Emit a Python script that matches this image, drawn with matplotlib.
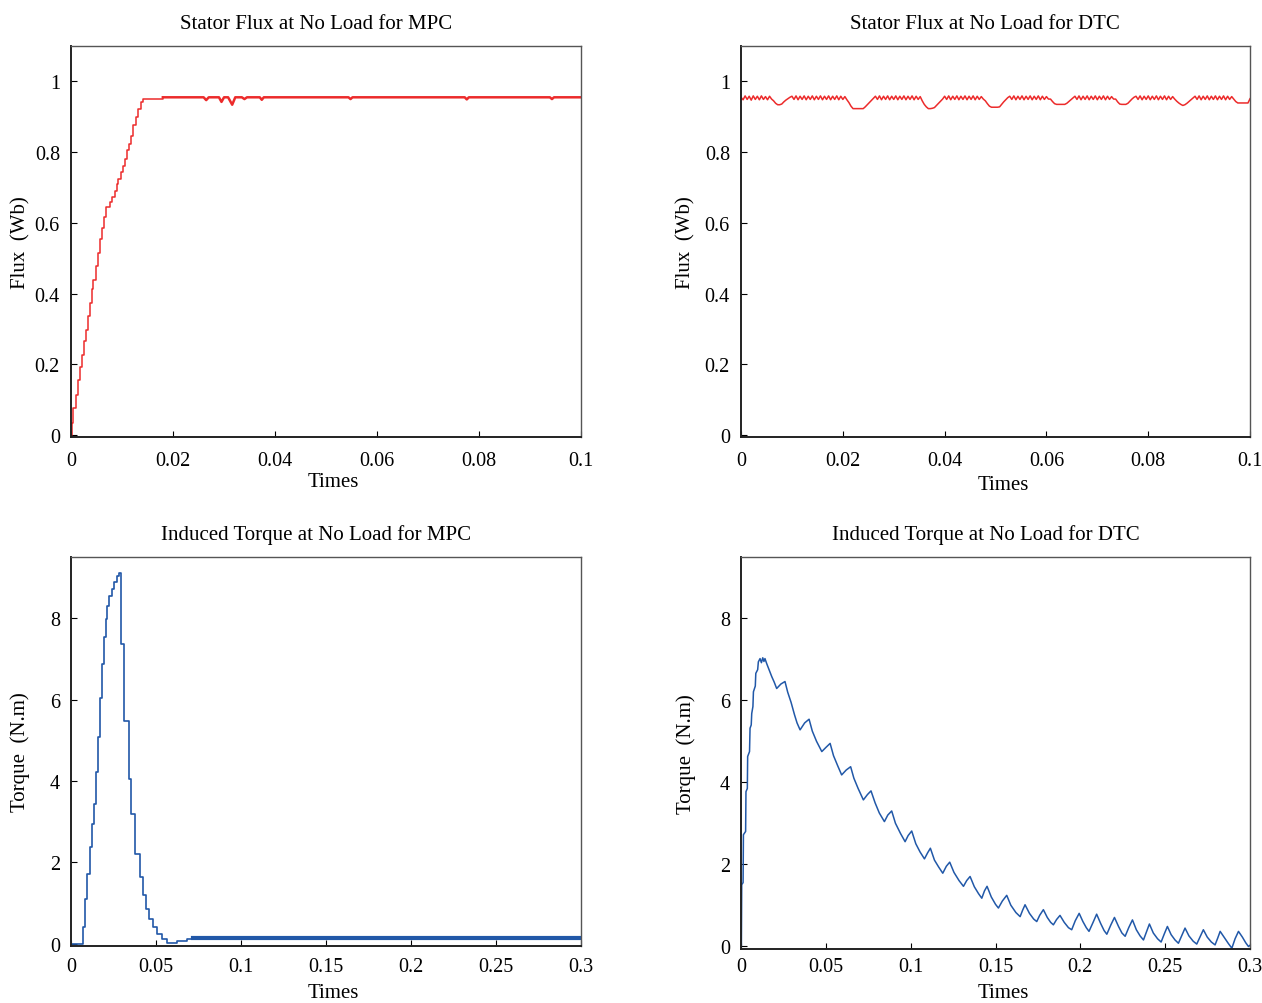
import numpy as np
import matplotlib
matplotlib.use("Agg")
import matplotlib.pyplot as plt
from matplotlib.ticker import FuncFormatter

plt.rcParams['font.family'] = ['Liberation Serif', 'DejaVu Serif']

RED = '#ec2b2b'
BLUE = '#2158a8'

# MPC stator flux (step-like rise, then flat with a few small dips)
mpc_flux_t = [0.0, 0.0002, 0.00046, 0.0009, 0.0013, 0.0018, 0.0022, 0.0025, 0.0029, 0.0033,
              0.0037, 0.0041, 0.0044, 0.0048, 0.0052, 0.0056, 0.0060, 0.0064, 0.0068, 0.0076,
              0.0081, 0.0086, 0.0090, 0.0093, 0.0097, 0.0101, 0.0105, 0.0109, 0.0114, 0.0118,
              0.0122, 0.0127, 0.0132, 0.0137, 0.0142, 0.0180, 0.0260, 0.0265, 0.0270, 0.0290,
              0.0295, 0.0300, 0.0308, 0.0316, 0.0322, 0.0335, 0.0340, 0.0345, 0.0370, 0.0374,
              0.0378, 0.0544, 0.0548, 0.0552, 0.0772, 0.0776, 0.0780, 0.0939, 0.0943, 0.0947,
              0.1000]
mpc_flux = [0.0, 0.034, 0.076, 0.114, 0.156, 0.194, 0.227, 0.265, 0.298, 0.336,
            0.374, 0.412, 0.440, 0.478, 0.516, 0.554, 0.587, 0.616, 0.644, 0.658,
            0.672, 0.691, 0.710, 0.724, 0.743, 0.762, 0.781, 0.805, 0.824, 0.847,
            0.876, 0.900, 0.923, 0.942, 0.951, 0.955, 0.955, 0.947, 0.955, 0.955,
            0.942, 0.955, 0.955, 0.934, 0.955, 0.955, 0.950, 0.955, 0.955, 0.948,
            0.955, 0.955, 0.950, 0.955, 0.955, 0.949, 0.955, 0.955, 0.950, 0.955,
            0.955]

# DTC stator flux, sampled every 0.4 ms
dtc_flux_t = np.arange(251) * 0.0004
dtc_flux = [0.955, 0.948, 0.959, 0.949, 0.958, 0.947, 0.959, 0.949, 0.958, 0.948,
            0.959, 0.949, 0.957, 0.948, 0.958, 0.950, 0.945, 0.938, 0.934, 0.934,
            0.936, 0.942, 0.947, 0.951, 0.955, 0.958, 0.949, 0.959, 0.948, 0.958,
            0.949, 0.959, 0.948, 0.958, 0.949, 0.959, 0.948, 0.958, 0.949, 0.959,
            0.948, 0.958, 0.949, 0.959, 0.948, 0.958, 0.949, 0.959, 0.948, 0.958,
            0.949, 0.957, 0.948, 0.940, 0.930, 0.923, 0.923, 0.923, 0.923, 0.923,
            0.923, 0.928, 0.934, 0.940, 0.946, 0.952, 0.958, 0.949, 0.959, 0.948,
            0.958, 0.949, 0.959, 0.948, 0.958, 0.949, 0.959, 0.948, 0.958, 0.949,
            0.959, 0.948, 0.958, 0.949, 0.959, 0.948, 0.958, 0.949, 0.957, 0.945,
            0.935, 0.928, 0.923, 0.923, 0.924, 0.926, 0.932, 0.938, 0.944, 0.950,
            0.958, 0.949, 0.959, 0.948, 0.958, 0.949, 0.959, 0.948, 0.958, 0.949,
            0.959, 0.948, 0.958, 0.949, 0.959, 0.948, 0.958, 0.949, 0.957, 0.950,
            0.945, 0.937, 0.930, 0.927, 0.927, 0.927, 0.927, 0.928, 0.935, 0.942,
            0.948, 0.954, 0.958, 0.949, 0.959, 0.948, 0.958, 0.949, 0.959, 0.948,
            0.958, 0.949, 0.959, 0.948, 0.958, 0.949, 0.959, 0.948, 0.958, 0.949,
            0.957, 0.950, 0.950, 0.943, 0.937, 0.935, 0.935, 0.935, 0.935, 0.935,
            0.938, 0.943, 0.948, 0.953, 0.958, 0.949, 0.959, 0.948, 0.958, 0.949,
            0.959, 0.948, 0.958, 0.949, 0.959, 0.948, 0.958, 0.949, 0.959, 0.948,
            0.958, 0.949, 0.957, 0.950, 0.950, 0.942, 0.936, 0.935, 0.935, 0.935,
            0.938, 0.944, 0.950, 0.955, 0.958, 0.949, 0.959, 0.948, 0.958, 0.949,
            0.959, 0.948, 0.958, 0.949, 0.959, 0.948, 0.958, 0.949, 0.959, 0.948,
            0.958, 0.949, 0.957, 0.950, 0.944, 0.939, 0.935, 0.932, 0.934, 0.938,
            0.943, 0.948, 0.953, 0.958, 0.949, 0.959, 0.948, 0.958, 0.949, 0.959,
            0.948, 0.958, 0.949, 0.959, 0.948, 0.958, 0.949, 0.959, 0.948, 0.958,
            0.949, 0.957, 0.950, 0.943, 0.939, 0.939, 0.939, 0.939, 0.939, 0.939,
            0.951]

# MPC induced torque
mpc_torque_t = [0.0, 0.0063, 0.0069, 0.0082, 0.0096, 0.0112, 0.0124, 0.0135, 0.0147, 0.0159,
                0.0171, 0.0182, 0.0194, 0.0204, 0.0214, 0.0225, 0.0239, 0.0253, 0.0269, 0.0284,
                0.0292, 0.0312, 0.0341, 0.0353, 0.0376, 0.0406, 0.0425, 0.0441, 0.0461, 0.0484,
                0.0508, 0.0534, 0.0563, 0.0624, 0.0680, 0.0720, 0.1200, 0.1800, 0.2400, 0.3000]
mpc_torque = [0.0, 0.0, 0.41, 1.10, 1.72, 2.37, 2.94, 3.44, 4.21, 5.07,
              6.05, 6.87, 7.53, 7.98, 8.30, 8.55, 8.71, 8.88, 9.04, 9.10,
              7.36, 5.48, 4.05, 3.19, 2.21, 1.64, 1.19, 0.86, 0.61, 0.41,
              0.25, 0.12, 0.02, 0.08, 0.12, 0.15, 0.15, 0.15, 0.15, 0.15]

# DTC induced torque
dtc_torque_t = [0.0, 0.0002, 0.0004, 0.0012, 0.0014, 0.0027, 0.0029, 0.0037, 0.0039, 0.0050,
                0.0053, 0.0060, 0.0063, 0.0070, 0.0073, 0.0084, 0.0087, 0.0098, 0.0102, 0.0112,
                0.0120, 0.0128, 0.0135, 0.0141, 0.0151, 0.0165, 0.0181, 0.0195, 0.0210, 0.0235,
                0.0259, 0.0275, 0.0295, 0.0315, 0.0330, 0.0348, 0.0375, 0.0401, 0.0420, 0.0445,
                0.0476, 0.0500, 0.0525, 0.0545, 0.0570, 0.0593, 0.0620, 0.0646, 0.0665, 0.0690,
                0.0721, 0.0745, 0.0766, 0.0790, 0.0815, 0.0845, 0.0865, 0.0888, 0.0910, 0.0940,
                0.0967, 0.0985, 0.1006, 0.1030, 0.1055, 0.1081, 0.1100, 0.1116, 0.1140, 0.1165,
                0.1189, 0.1210, 0.1230, 0.1255, 0.1285, 0.1311, 0.1330, 0.1350, 0.1375, 0.1400,
                0.1419, 0.1435, 0.1450, 0.1475, 0.1500, 0.1517, 0.1540, 0.1566, 0.1590, 0.1620,
                0.1645, 0.1660, 0.1674, 0.1700, 0.1725, 0.1743, 0.1760, 0.1782, 0.1805, 0.1825,
                0.1841, 0.1860, 0.1880, 0.1905, 0.1930, 0.1949, 0.1970, 0.1993, 0.2015, 0.2035,
                0.2051, 0.2075, 0.2096, 0.2120, 0.2140, 0.2156, 0.2180, 0.2201, 0.2225, 0.2245,
                0.2264, 0.2285, 0.2307, 0.2330, 0.2352, 0.2372, 0.2390, 0.2407, 0.2430, 0.2455,
                0.2476, 0.2495, 0.2513, 0.2535, 0.2558, 0.2578, 0.2598, 0.2617, 0.2640, 0.2665,
                0.2686, 0.2705, 0.2725, 0.2748, 0.2772, 0.2794, 0.2810, 0.2824, 0.2850, 0.2873,
                0.2893, 0.2912, 0.2932, 0.2955, 0.2975, 0.2991, 0.3000]
dtc_torque = [0.00, 0.00, 1.50, 1.55, 2.72, 2.80, 3.77, 3.85, 4.63, 4.75,
              5.32, 5.40, 5.68, 5.85, 6.21, 6.35, 6.66, 6.75, 6.94, 7.02,
              6.92, 7.04, 6.95, 7.02, 6.90, 6.75, 6.58, 6.45, 6.29, 6.40,
              6.46, 6.20, 5.95, 5.65, 5.45, 5.28, 5.45, 5.54, 5.25, 5.00,
              4.75, 4.85, 4.95, 4.65, 4.40, 4.18, 4.30, 4.38, 4.10, 3.85,
              3.57, 3.70, 3.79, 3.50, 3.25, 3.04, 3.20, 3.30, 3.00, 2.75,
              2.55, 2.70, 2.81, 2.50, 2.30, 2.13, 2.28, 2.39, 2.10, 1.93,
              1.78, 1.95, 2.05, 1.80, 1.60, 1.46, 1.60, 1.70, 1.45, 1.28,
              1.17, 1.35, 1.46, 1.20, 1.02, 0.93, 1.10, 1.24, 1.00, 0.82,
              0.72, 0.88, 1.01, 0.80, 0.66, 0.60, 0.75, 0.89, 0.70, 0.58,
              0.52, 0.65, 0.75, 0.58, 0.45, 0.40, 0.62, 0.80, 0.60, 0.45,
              0.36, 0.58, 0.78, 0.55, 0.38, 0.29, 0.52, 0.70, 0.48, 0.32,
              0.24, 0.45, 0.64, 0.40, 0.25, 0.15, 0.35, 0.54, 0.32, 0.18,
              0.10, 0.30, 0.48, 0.28, 0.15, 0.07, 0.26, 0.44, 0.25, 0.12,
              0.05, 0.22, 0.40, 0.22, 0.10, 0.03, 0.20, 0.36, 0.20, 0.06,
              -0.05, 0.18, 0.36, 0.22, 0.08, -0.01, 0.02]

flux_ticks = [0, 0.2, 0.4, 0.6, 0.8, 1]
torque_ticks = [0, 2, 4, 6, 8]
fmt = FuncFormatter(lambda v, p: '%g' % round(v, 4))


def style_axes(ax, title, ylabel, ylab_x, xlab_y, xpad):
    ax.set_title(title, fontsize=15, pad=13, x=0.48)
    ax.set_xlabel('Times', fontsize=15)
    ax.set_ylabel(ylabel, fontsize=15)
    # label coords: right edge of the y label, top edge of the x label
    ax.xaxis.set_label_coords(0.515, xlab_y)
    ax.yaxis.set_label_coords(ylab_x, 0.5)
    ax.tick_params(direction='in', length=4, labelsize=14.5, top=False, right=False)
    ax.tick_params(axis='x', pad=xpad)
    ax.tick_params(axis='y', pad=8)
    ax.xaxis.set_major_formatter(fmt)
    ax.yaxis.set_major_formatter(fmt)
    for side in ['left', 'bottom']:
        ax.spines[side].set_linewidth(1.4)
        ax.spines[side].set_color('#222222')
    for side in ['top', 'right']:
        ax.spines[side].set_linewidth(1.0)
        ax.spines[side].set_color('#555555')


fig = plt.figure(figsize=(12.62, 10.04), dpi=100)
ax1 = fig.add_axes([0.0563, 0.5637, 0.4041, 0.3895])
ax2 = fig.add_axes([0.5872, 0.5637, 0.4033, 0.3895])
ax3 = fig.add_axes([0.0563, 0.0568, 0.4041, 0.3874])
ax4 = fig.add_axes([0.5872, 0.0538, 0.4033, 0.3904])

ax1.plot(mpc_flux_t[:36], mpc_flux[:36], color=RED, lw=1.1, drawstyle='steps-post')
ax1.plot(mpc_flux_t[35:], mpc_flux[35:], color=RED, lw=1.8)
ax1.set_xlim(0, 0.1)
ax1.set_ylim(-0.005, 1.1)
ax1.set_xticks([0, 0.02, 0.04, 0.06, 0.08, 0.1])
ax1.set_yticks(flux_ticks)
style_axes(ax1, 'Stator Flux at No Load for MPC', 'Flux  (Wb)', -0.08, -0.09, 10)

ax2.plot(dtc_flux_t, dtc_flux, color=RED, lw=1.1)
ax2.set_xlim(0, 0.1)
ax2.set_ylim(-0.005, 1.1)
ax2.set_xticks([0, 0.02, 0.04, 0.06, 0.08, 0.1])
ax2.set_yticks(flux_ticks)
style_axes(ax2, 'Stator Flux at No Load for DTC', 'Flux  (Wb)', -0.09, -0.097, 10)

ax3.plot(mpc_torque_t, mpc_torque, color=BLUE, lw=1.2, drawstyle='steps-post')
ax3.plot(mpc_torque_t[35:], mpc_torque[35:], color=BLUE, lw=3.0)
ax3.set_xlim(0, 0.3)
ax3.set_ylim(-0.05, 9.5)
ax3.set_xticks([0, 0.05, 0.1, 0.15, 0.2, 0.25, 0.3])
ax3.set_yticks(torque_ticks)
style_axes(ax3, 'Induced Torque at No Load for MPC', 'Torque  (N.m)', -0.08, -0.095, 8)

ax4.plot(dtc_torque_t, dtc_torque, color=BLUE, lw=1.1)
ax4.set_xlim(0, 0.3)
ax4.set_ylim(-0.07, 9.5)
ax4.set_xticks([0, 0.05, 0.1, 0.15, 0.2, 0.25, 0.3])
ax4.set_yticks(torque_ticks)
style_axes(ax4, 'Induced Torque at No Load for DTC', 'Torque  (N.m)', -0.088, -0.087, 6)

fig.savefig('out.png', dpi=100)
